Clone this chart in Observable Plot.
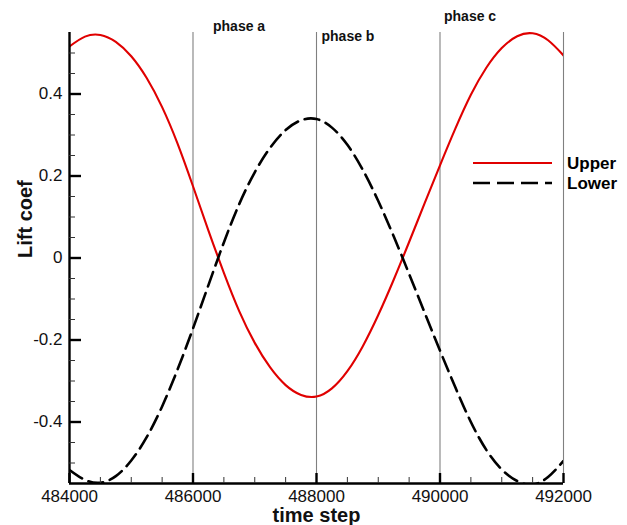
<!DOCTYPE html>
<html>
<head>
<meta charset="utf-8">
<script src="https://cdn.jsdelivr.net/npm/d3@7"></script>
<script src="https://cdn.jsdelivr.net/npm/@observablehq/plot@0.6"></script>
<style>
  html, body { margin: 0; padding: 0; background: #fff; }
  #chart { width: 627px; height: 525px; }
</style>
</head>
<body>
<div id="chart"></div>
<script>
// ---- data ----
const timeSteps = [
  484000, 484250, 484500, 484750, 485000, 485250, 485500, 485750,
  486000, 486250, 486500, 486750, 487000, 487250, 487500, 487750,
  488000, 488250, 488500, 488750, 489000, 489250, 489500, 489750,
  490000, 490250, 490500, 490750, 491000, 491250, 491500, 491750, 492000
];
const upper = [
  0.516, 0.540, 0.544, 0.527, 0.492, 0.439, 0.368, 0.279,
  0.175, 0.067, -0.036, -0.130, -0.207, -0.267, -0.310, -0.334,
  -0.338, -0.318, -0.276, -0.215, -0.139, -0.053, 0.039, 0.133,
  0.226, 0.316, 0.398, 0.464, 0.512, 0.541, 0.548, 0.531, 0.494
];
const lower = [
  -0.517, -0.541, -0.548, -0.532, -0.494, -0.437, -0.362, -0.272,
  -0.172, -0.066, 0.038, 0.132, 0.209, 0.269, 0.312, 0.336,
  0.339, 0.318, 0.276, 0.215, 0.139, 0.053, -0.039, -0.133,
  -0.226, -0.316, -0.400, -0.468, -0.516, -0.544, -0.553, -0.534, -0.495
];
const seriesNames = ["Upper", "Lower"];
const xDomain = [484000, 492000];
const yDomain = [-0.55, 0.55];
const xTicks = [484000, 486000, 488000, 490000, 492000];
const xTickLabels = ["484000", "486000", "488000", "490000", "492000"];
const yTicks = [0.4, 0.2, 0, -0.2, -0.4];
const yTickLabels = ["0.4", "0.2", "0", "-0.2", "-0.4"];
const xMinorTicks = d3.range(484500, 492000, 500);
const yMinorTicks = d3.range(-10, 11).map(k => k * 0.05);
const phaseLines = [486000, 488000, 490000, 492000];
const phaseNames = ["phase a", "phase b", "phase c"];
const phaseAt = [486000, 488000, 490000];
const xLabel = "time step";
const yLabel = "Lift coef";

// ---- layout ----
const W = 627, H = 525;
const ML = 69, MR = 64, MT = 32, MB = 42;
const PW = W - ML - MR, PH = H - MT - MB;
const RED = "#e00000";
const FONT = "'Liberation Sans', Arial, Helvetica, sans-serif";

const upperRows = timeSteps.map((t, i) => ({t, v: upper[i]}));
const lowerRows = timeSteps.map((t, i) => ({t, v: lower[i]}));

function legendMark() {
  const g = d3.create("svg:g").attr("font-family", FONT);
  const x0 = W - MR - 90, x1 = W - MR - 11;
  const rows = [
    {name: seriesNames[0], y: MT + 131, stroke: RED, dash: null, sw: 2.2},
    {name: seriesNames[1], y: MT + 151, stroke: "#000", dash: "17,7", sw: 2.6}
  ];
  for (const r of rows) {
    const l = g.append("line").attr("x1", x0).attr("x2", x1).attr("y1", r.y).attr("y2", r.y)
      .attr("stroke", r.stroke).attr("stroke-width", r.sw);
    if (r.dash) l.attr("stroke-dasharray", r.dash);
    g.append("text").attr("x", W - MR + 4).attr("y", r.y).attr("dy", "0.35em")
      .attr("text-anchor", "start")
      .attr("font-size", 17).attr("font-weight", "bold").attr("fill", "#000").text(r.name);
  }
  return g.node();
}

const phaseDx = [20, 5, 4];
const phaseDy = [-6, 4, -16];

const chart = Plot.plot({
  width: W,
  height: H,
  marginLeft: ML, marginRight: MR, marginTop: MT, marginBottom: MB,
  style: {fontFamily: FONT, background: "#fff", overflow: "visible"},
  x: {domain: xDomain, axis: null},
  y: {domain: yDomain, axis: null},
  marks: [
    // vertical phase lines
    Plot.ruleX(phaseLines, {stroke: "#808080", strokeWidth: 1.1}),
    // curves
    Plot.line(upperRows, {x: "t", y: "v", stroke: RED, strokeWidth: 2.1, curve: "natural", clip: true}),
    Plot.line(lowerRows, {x: "t", y: "v", stroke: "#000", strokeWidth: 2.6, strokeDasharray: "15,7", curve: "natural", clip: true}),
    // axis lines
    Plot.ruleX([xDomain[0]], {stroke: "#000", strokeWidth: 2.4}),
    Plot.ruleY([yDomain[0]], {stroke: "#000", strokeWidth: 2.4}),
    // x ticks (inward)
    Plot.ruleX(xMinorTicks, {stroke: "#333", strokeWidth: 1, insetTop: PH - 6}),
    Plot.ruleX(xTicks, {stroke: "#000", strokeWidth: 2.4, insetTop: PH - 10}),
    // y ticks (inward)
    Plot.ruleY(yMinorTicks, {stroke: "#333", strokeWidth: 1, insetRight: PW - 6}),
    Plot.ruleY(yTicks, {stroke: "#000", strokeWidth: 2.4, insetRight: PW - 12}),
    // tick labels
    Plot.axisX(xTicks, {tickSize: 0, tickPadding: 6, tickFormat: d => xTickLabels[xTicks.indexOf(d)], fontSize: 17, fill: "#111", label: null}),
    Plot.axisY(yTicks, {tickSize: 0, tickPadding: 7, tickFormat: d => yTickLabels[yTicks.indexOf(d)], fontSize: 17, fill: "#111", label: null}),
    // axis titles
    Plot.text([xLabel], {frameAnchor: "bottom", dy: 32, text: d => d, fontSize: 20, fontWeight: "bold", fill: "#111", lineAnchor: "middle"}),
    Plot.text([yLabel], {frameAnchor: "left", dx: -44, rotate: -90, text: d => d, fontSize: 20, fontWeight: "bold", fill: "#111", lineAnchor: "middle"}),
    // phase labels
    ...phaseNames.map((name, i) => Plot.text([name], {
      x: () => phaseAt[i], frameAnchor: "top", text: d => d, textAnchor: "start",
      dx: phaseDx[i], dy: phaseDy[i], fontSize: 14, fontWeight: "bold", fill: "#111", lineAnchor: "middle"
    })),
    // legend
    legendMark
  ]
});
document.getElementById("chart").appendChild(chart);
</script>
</body>
</html>
